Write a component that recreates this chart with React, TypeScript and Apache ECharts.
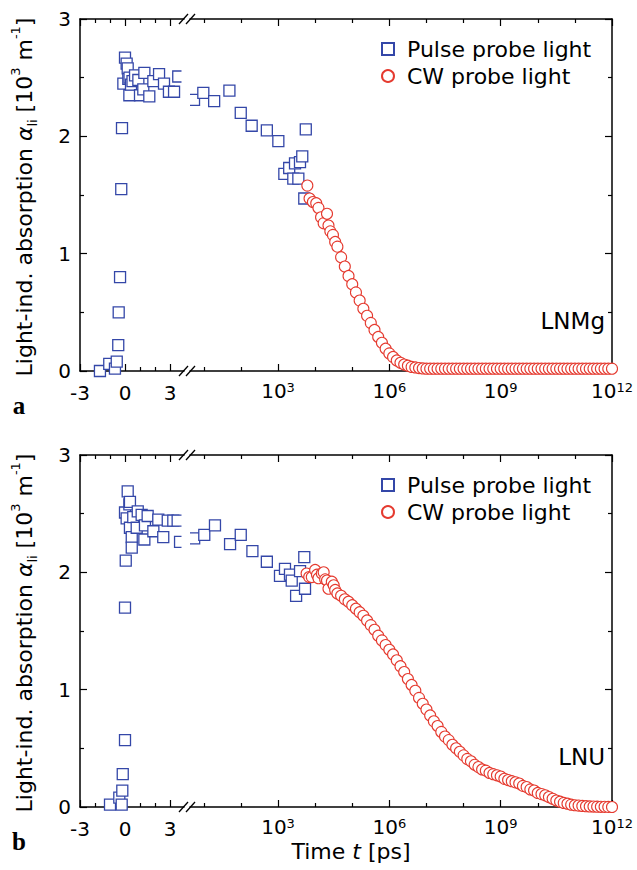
import React, { useEffect, useRef } from "react";
import * as echarts from "echarts";

// ---------------- data ----------------
const PULSE = "Pulse probe light";
const CW = "CW probe light";

// Panel a (LNMg) — pulse probe light, time in ps
const pulseA_t = [-1.67, -1.05, -0.67, -0.55, -0.45, -0.42, -0.33, -0.25, -0.2, -0.11, 0.0, 0.11, 0.18, 0.22, 0.29, 0.3, 0.4, 0.5, 0.67, 0.89, 1.0, 1.22, 1.29, 1.62, 1.89, 2.27, 2.6, 2.93, 3.27, 3.55, 5.45, 9.7, 19, 49, 99, 195, 500, 1020, 1480, 2000, 2580, 2870, 3530, 3910, 4500, 5100, 5600];
const pulseA_alpha = [0.0, 0.06, 0.02, 0.08, 0.22, 0.5, 0.8, 1.55, 2.07, 2.45, 2.67, 2.62, 2.58, 2.49, 2.35, 2.5, 2.44, 2.47, 2.52, 2.48, 2.35, 2.4, 2.54, 2.34, 2.47, 2.53, 2.45, 2.38, 2.38, 2.51, 2.31, 2.37, 2.3, 2.39, 2.2, 2.09, 2.05, 1.96, 1.68, 1.73, 1.64, 1.77, 1.64, 1.78, 1.83, 1.47, 2.06];

// Panel a — CW probe light, log10(time / ps)
const cwA_logT = [3.79, 3.85, 3.94, 4.03, 4.09, 4.16, 4.23, 4.32, 4.36, 4.41, 4.48, 4.54,
  4.6, 4.7, 4.8, 4.9, 5.0, 5.1, 5.2, 5.3, 5.4, 5.5, 5.6, 5.7, 5.8, 5.9, 6.0, 6.1, 6.2, 6.3, 6.4, 6.5, 6.6, 6.7, 6.8, 6.9,
  7.0, 7.1, 7.2, 7.3, 7.4, 7.5, 7.6, 7.7, 7.8, 7.9, 8.0, 8.1, 8.2, 8.3, 8.4, 8.5, 8.6, 8.7, 8.8, 8.9,
  9.0, 9.1, 9.2, 9.3, 9.4, 9.5, 9.6, 9.7, 9.8, 9.9, 10.0, 10.1, 10.2, 10.3, 10.4, 10.5, 10.6, 10.7, 10.8, 10.9,
  11.0, 11.1, 11.2, 11.3, 11.4, 11.5, 11.6, 11.7, 11.8, 11.9, 12.0];
const cwA_alpha = [1.58, 1.47, 1.44, 1.43, 1.39, 1.31, 1.26, 1.34, 1.24, 1.19, 1.16, 1.1,
  1.06, 0.97, 0.89, 0.81, 0.74, 0.67, 0.6, 0.53, 0.47, 0.41, 0.35, 0.29, 0.24, 0.19, 0.15, 0.12, 0.09, 0.07, 0.055, 0.045, 0.035, 0.03, 0.025, 0.022,
  0.02, 0.02, 0.02, 0.02, 0.02, 0.02, 0.02, 0.02, 0.02, 0.02, 0.02, 0.02, 0.02, 0.02, 0.02, 0.02, 0.02, 0.02, 0.02, 0.02,
  0.02, 0.02, 0.02, 0.02, 0.02, 0.02, 0.02, 0.02, 0.02, 0.02, 0.02, 0.02, 0.02, 0.02, 0.02, 0.02, 0.02, 0.02, 0.02, 0.02,
  0.02, 0.02, 0.02, 0.02, 0.02, 0.02, 0.02, 0.02, 0.02, 0.02, 0.02];

// Panel b (LNU) — pulse probe light, time in ps
const pulseB_t = [-1.0, -0.38, -0.22, -0.18, -0.15, 0.0, 0.0, 0.05, 0.0, 0.11, 0.18, 0.29, 0.33, 0.33, 0.45, 0.45, 0.55, 0.78, 0.85, 1.11, 1.29, 1.33, 1.51, 1.89, 2.22, 2.55, 2.85, 3.22, 3.51, 3.67, 5.5, 10.3, 20, 51, 99, 204, 500, 1130, 1540, 2100, 2340, 3070, 3920, 5100, 5340];
const pulseB_alpha = [0.02, 0.08, 0.02, 0.14, 0.28, 0.57, 1.7, 2.1, 2.51, 2.46, 2.69, 2.58, 2.6, 2.38, 2.3, 2.21, 2.47, 2.38, 2.52, 2.49, 2.28, 2.4, 2.48, 2.35, 2.45, 2.3, 2.44, 2.44, 2.44, 2.26, 2.29, 2.32, 2.4, 2.24, 2.32, 2.18, 2.09, 1.97, 2.03, 1.98, 1.93, 1.8, 2.01, 2.13, 1.86];

// Panel b — CW probe light, log10(time / ps)
const cwB_logT = [3.77, 3.84, 3.91, 4.0, 4.05, 4.09, 4.18, 4.23, 4.27, 4.32, 4.36, 4.45, 4.5, 4.54,
  4.6, 4.7, 4.8, 4.9, 5.0, 5.1, 5.2, 5.3, 5.4, 5.5, 5.6, 5.7, 5.8, 5.9, 6.0, 6.1, 6.2, 6.3, 6.4, 6.5, 6.6, 6.7, 6.8, 6.9,
  7.0, 7.1, 7.2, 7.3, 7.4, 7.5, 7.6, 7.7, 7.8, 7.9, 8.0, 8.1, 8.2, 8.3, 8.4, 8.5, 8.6, 8.7, 8.8, 8.9,
  9.0, 9.1, 9.2, 9.3, 9.4, 9.5, 9.6, 9.7, 9.8, 9.9, 10.0, 10.1, 10.2, 10.3, 10.4, 10.5, 10.6, 10.7, 10.8, 10.9,
  11.0, 11.1, 11.2, 11.3, 11.4, 11.5, 11.6, 11.7, 11.8, 11.9, 12.0];
const cwB_alpha = [1.99, 1.96, 1.96, 2.02, 1.98, 1.95, 1.99, 2.0, 1.94, 1.93, 1.86, 1.92, 1.89, 1.85,
  1.82, 1.8, 1.77, 1.75, 1.72, 1.69, 1.66, 1.63, 1.59, 1.55, 1.51, 1.46, 1.42, 1.38, 1.34, 1.3, 1.25, 1.2, 1.15, 1.09, 1.04, 0.99, 0.93, 0.88,
  0.83, 0.78, 0.73, 0.69, 0.64, 0.6, 0.57, 0.53, 0.5, 0.47, 0.44, 0.41, 0.39, 0.36, 0.34, 0.32, 0.31, 0.29, 0.28, 0.27,
  0.26, 0.24, 0.23, 0.22, 0.21, 0.2, 0.18, 0.17, 0.15, 0.14, 0.12, 0.11, 0.1, 0.085, 0.07, 0.055, 0.045, 0.035, 0.028, 0.02,
  0.015, 0.012, 0.009, 0.007, 0.005, 0.004, 0.003, 0.002, 0.002, 0.001, 0.0];

const linTickLabels = [-3, 0, 3];
const logTickExponents = [3, 6, 9, 12];
const panelNames = ["LNMg", "LNU"];
const panelLetters = ["a", "b"];

// ---------------- layout / style ----------------
const FONT = '"DejaVu Sans", "Liberation Sans", sans-serif';
const BLUE = "#3447a8";
const RED = "#e53a2f";
const BLACK = "#000";

const PLOT_LEFT = 80;
const LIN_RIGHT = 184;
const LOG_LEFT = 190;
const PLOT_RIGHT = 612;
const PANEL_TOPS = [19, 455];
const PLOT_H = 352;
const LIN_PX = 15; // px per ps
const DEC_PX = 37.1; // px per decade
const X_1E3 = 278;
const LIN_MIN = -3;
const LIN_MAX = LIN_MIN + (LIN_RIGHT - PLOT_LEFT) / LIN_PX;
const LOG_MIN = 3 - (X_1E3 - LOG_LEFT) / DEC_PX;
const LOG_MAX = 12;
const SPLIT_T = 4;

const axisLineStyle = { color: BLACK, width: 1.5 };
const tickStyle = { color: BLACK, width: 1.2 };

function splitPulse(ts, as) {
  const lin = [];
  const log = [];
  ts.forEach((t, i) => {
    if (t < SPLIT_T) lin.push([t, as[i]]);
    else log.push([Math.log10(t), as[i]]);
  });
  return { lin, log };
}
const pairs = (xs, ys) => xs.map((x, i) => [x, ys[i]]);

function linX(grid, pos, showLabel) {
  return {
    type: "value", gridIndex: grid, position: pos, min: LIN_MIN, max: LIN_MAX, interval: 3,
    axisLine: { show: true, onZero: false, lineStyle: axisLineStyle },
    axisTick: { show: true, inside: true, length: 7, lineStyle: tickStyle, customValues: linTickLabels },
    minorTick: { show: true, splitNumber: 3, length: 4, lineStyle: tickStyle },
    splitLine: { show: false }, minorSplitLine: { show: false },
    axisLabel: {
      show: showLabel, customValues: linTickLabels, formatter: (v) => String(v),
      margin: 12, fontSize: 20, lineHeight: 20, color: BLACK, fontFamily: FONT,
      showMinLabel: true, showMaxLabel: true,
    },
  };
}

function logX(grid, pos, showLabel) {
  return {
    type: "value", gridIndex: grid, position: pos, min: LOG_MIN, max: LOG_MAX,
    minInterval: 3, maxInterval: 3, splitNumber: 4,
    axisLine: { show: true, onZero: false, lineStyle: axisLineStyle },
    axisTick: { show: true, inside: true, length: 7, lineStyle: tickStyle, customValues: logTickExponents },
    minorTick: { show: true, splitNumber: 3, length: 4, lineStyle: tickStyle },
    splitLine: { show: false }, minorSplitLine: { show: false },
    axisLabel: {
      show: showLabel, customValues: logTickExponents, formatter: (v) => "{b|10}{sup|" + v + "}",
      margin: 10, fontSize: 20, color: BLACK, fontFamily: FONT,
      showMinLabel: true, showMaxLabel: true,
      rich: {
        b: { fontSize: 20, lineHeight: 20, verticalAlign: "bottom", fontFamily: FONT, color: BLACK },
        sup: { fontSize: 13, lineHeight: 14, padding: [0, 0, 11, 0], verticalAlign: "top", fontFamily: FONT, color: BLACK },
      },
    },
  };
}

function yAx(grid, pos, showLabel) {
  return {
    type: "value", gridIndex: grid, position: pos, min: 0, max: 3, interval: 1,
    axisLine: { show: true, onZero: false, lineStyle: axisLineStyle },
    axisTick: { show: true, inside: true, length: 7, lineStyle: tickStyle },
    minorTick: { show: true, splitNumber: 2, length: 4, lineStyle: tickStyle },
    splitLine: { show: false }, minorSplitLine: { show: false },
    axisLabel: { show: showLabel, margin: 9, fontSize: 20, color: BLACK, fontFamily: FONT },
  };
}

function scatter(name, data, xi, yi, symbol, color, bw) {
  return {
    type: "scatter", name, data, xAxisIndex: xi, yAxisIndex: yi, symbol, symbolSize: 11,
    silent: true, emphasis: { disabled: true },
    itemStyle: { color: "#fff", borderColor: color, borderWidth: bw, opacity: 1 },
  };
}

function buildOption() {
  const grids = [];
  const xAxes = [];
  const yAxes = [];
  const series = [];
  const legends = [];
  const elements = [];
  const panels = [
    { pulse: splitPulse(pulseA_t, pulseA_alpha), cw: pairs(cwA_logT, cwA_alpha) },
    { pulse: splitPulse(pulseB_t, pulseB_alpha), cw: pairs(cwB_logT, cwB_alpha) },
  ];

  panels.forEach((p, k) => {
    const top = PANEL_TOPS[k];
    const gLin = 2 * k;
    const gLog = 2 * k + 1;
    grids.push({ left: PLOT_LEFT, top, width: LIN_RIGHT - PLOT_LEFT, height: PLOT_H });
    grids.push({ left: LOG_LEFT, top, width: PLOT_RIGHT - LOG_LEFT, height: PLOT_H });
    const xLinB = xAxes.length; xAxes.push(linX(gLin, "bottom", true));
    xAxes.push(linX(gLin, "top", false));
    const xLogB = xAxes.length; xAxes.push(logX(gLog, "bottom", true));
    xAxes.push(logX(gLog, "top", false));
    const yLin = yAxes.length; yAxes.push(yAx(gLin, "left", true));
    const yLog = yAxes.length; yAxes.push(yAx(gLog, "right", false));

    series.push(scatter(PULSE, p.pulse.lin, xLinB, yLin, "rect", BLUE, 1.3));
    series.push(scatter(PULSE, p.pulse.log, xLogB, yLog, "rect", BLUE, 1.3));
    series.push(scatter(CW, p.cw, xLogB, yLog, "circle", RED, 1.1));

    legends.push({
      data: [PULSE, CW], orient: "vertical", left: 381, top: top + 19, padding: 0,
      itemWidth: 12, itemHeight: 12, itemGap: 5, selectedMode: false,
      textStyle: { fontSize: 22, fontFamily: FONT, color: BLACK, padding: [0, 0, 0, 8] },
    });

    // axis break: white band and // marks
    elements.push({
      type: "rect", z: 50, silent: true,
      shape: { x: 181.5, y: top + 1, width: 8.5, height: PLOT_H - 2 },
      style: { fill: "#fff" },
    });
    [top, top + PLOT_H].forEach((y) => {
      [179, 186].forEach((x0) => {
        elements.push({
          type: "line", z: 60, silent: true,
          shape: { x1: x0, y1: y + 5, x2: x0 + 9, y2: y - 5 },
          style: { stroke: BLACK, lineWidth: 1.3 },
        });
      });
    });

    // y axis title
    elements.push({
      type: "text", z: 60, silent: true, x: 24, y: top + 178, rotation: Math.PI / 2,
      style: {
        text: "Light-ind. absorption {it|α}{sub|li} [10{sup|3} m{sup|-1}]",
        fontSize: 22, fontFamily: FONT, fill: BLACK, lineHeight: 30,
        align: "center", verticalAlign: "middle", textAlign: "center", textVerticalAlign: "middle",
        rich: {
          it: { fontSize: 22, fontStyle: "italic", fontFamily: FONT, fill: BLACK, lineHeight: 30 },
          sub: { fontSize: 13, lineHeight: 14, verticalAlign: "bottom", fontFamily: FONT, fill: BLACK },
          sup: { fontSize: 13, lineHeight: 14, verticalAlign: "top", fontFamily: FONT, fill: BLACK },
        },
      },
    });

    // sample name
    elements.push({
      type: "text", z: 60, silent: true, x: 605, y: top + 302,
      style: {
        text: panelNames[k], fontSize: 23, fontFamily: FONT, fill: BLACK,
        align: "right", verticalAlign: "middle", textAlign: "right", textVerticalAlign: "middle",
      },
    });

    // panel letter
    elements.push({
      type: "text", z: 60, silent: true, x: 19, y: top + 386,
      style: {
        text: panelLetters[k], fontSize: 25, fontWeight: "bold", fontFamily: '"Liberation Serif", "DejaVu Serif", serif',
        fill: BLACK, align: "center", verticalAlign: "middle", textAlign: "center", textVerticalAlign: "middle",
      },
    });
  });

  // x axis title
  elements.push({
    type: "text", z: 60, silent: true, x: 351, y: 851,
    style: {
      text: "Time {it|t} [ps]", fontSize: 22, fontFamily: FONT, fill: BLACK, lineHeight: 14,
      align: "center", verticalAlign: "middle", textAlign: "center", textVerticalAlign: "middle",
      rich: { it: { fontSize: 22, lineHeight: 14, fontStyle: "italic", fontFamily: FONT, fill: BLACK } },
    },
  });

  return {
    animation: false,
    backgroundColor: "#fff",
    grid: grids,
    xAxis: xAxes,
    yAxis: yAxes,
    legend: legends,
    series,
    graphic: { elements },
  };
}

export default function App() {
  const ref = useRef(null);
  useEffect(() => {
    const chart = echarts.init(ref.current, null, { renderer: "svg" });
    chart.setOption(buildOption());
    return () => chart.dispose();
  }, []);
  return (
    <div
      ref={ref}
      style={{ position: "absolute", left: 0, top: 0, width: 637, height: 870, background: "#fff" }}
    />
  );
}
